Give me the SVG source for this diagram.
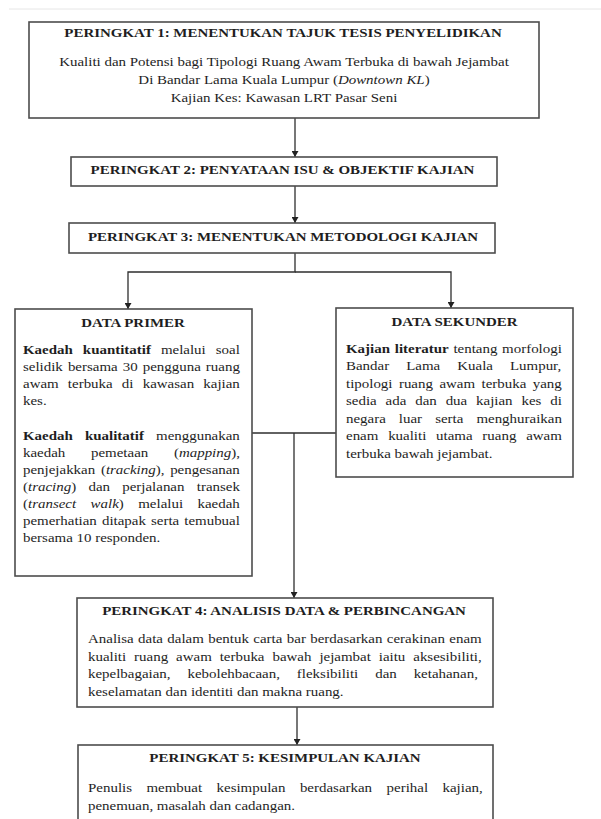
<svg xmlns="http://www.w3.org/2000/svg" width="601" height="819" viewBox="0 0 601 819">
<defs>
<marker id="ah" viewBox="0 0 6 7" markerWidth="6" markerHeight="7" refX="6" refY="3.5" orient="auto" markerUnits="userSpaceOnUse"><path d="M0,0 L6,3.5 L0,7 z" fill="#222"/></marker>
<style>
.box{fill:#fff;stroke:#4d4d4d;stroke-width:1.6}
text{font-family:"Liberation Serif","Times New Roman",serif;font-size:13px;fill:#1e1e1e}
.h{font-weight:bold;text-anchor:middle}
.c{text-anchor:middle}
.b{font-weight:bold}
.i{font-style:italic}
.con{fill:none;stroke:#2e2e2e;stroke-width:1.3}
</style>
</defs>
<rect width="601" height="819" fill="#fff"/>
<path d="M9,9 H601" stroke="#e6e6e6" stroke-width="1"/>

<g id="connectors">
<path class="con" d="M295,118 V157" marker-end="url(#ah)"/>
<path class="con" d="M295,186 V223" marker-end="url(#ah)"/>
<path class="con" d="M295,253 V272 H128 V309" marker-end="url(#ah)"/>
<path class="con" d="M295,272 H451 V308" marker-end="url(#ah)"/>
<path class="con" d="M252,433 H336"/>
<path class="con" d="M294,433 V598" marker-end="url(#ah)"/>
<path class="con" d="M297,707 V745" marker-end="url(#ah)"/>
</g>

<g id="peringkat1">
<rect class="box" x="29" y="22" width="510" height="96"/>
<g transform="translate(283,0) scale(1.15,1)"><text class="h" x="0" y="37.5">PERINGKAT 1: MENENTUKAN TAJUK TESIS PENYELIDIKAN</text></g>
<g transform="translate(284,0) scale(1.15,1)">
<text class="c" x="0" y="66">Kualiti dan Potensi bagi Tipologi Ruang Awam Terbuka di bawah Jejambat</text>
<text class="c" x="0" y="84">Di Bandar Lama Kuala Lumpur (<tspan class="i">Downtown KL</tspan>)</text>
<text class="c" x="0" y="102">Kajian Kes: Kawasan LRT Pasar Seni</text>
</g>
</g>

<g id="peringkat2">
<rect class="box" x="71" y="157" width="426" height="29"/>
<g transform="translate(282.5,0) scale(1.15,1)"><text class="h" x="0" y="174.5">PERINGKAT 2: PENYATAAN ISU &amp; OBJEKTIF KAJIAN</text></g>
</g>

<g id="peringkat3">
<rect class="box" x="69" y="223" width="426" height="30"/>
<g transform="translate(283,0) scale(1.15,1)"><text class="h" x="0" y="241">PERINGKAT 3: MENENTUKAN METODOLOGI KAJIAN</text></g>
</g>

<g id="data-primer">
<rect class="box" x="15" y="309" width="237" height="267"/>
<g transform="translate(133,0) scale(1.15,1)"><text class="h" x="0" y="327">DATA PRIMER</text></g>
<g transform="translate(23,0) scale(1.15,1)">
<text x="0" y="354" word-spacing="5.47"><tspan class="b">Kaedah kuantitatif</tspan> melalui soal</text>
<text x="0" y="371" word-spacing="1.15">selidik bersama 30 pengguna ruang</text>
<text x="0" y="388" word-spacing="4.75">awam terbuka di kawasan kajian</text>
<text x="0" y="405">kes.</text>
<text x="0" y="440" word-spacing="7.3"><tspan class="b">Kaedah kualitatif</tspan> menggunakan</text>
<text x="0" y="457" word-spacing="19.1">kaedah pemetaan (<tspan class="i">mapping</tspan>),</text>
<text x="0" y="474" word-spacing="1.75">penjejakkan (<tspan class="i">tracking</tspan>), pengesanan</text>
<text x="0" y="491" word-spacing="7.43">(<tspan class="i">tracing</tspan>) dan perjalanan transek</text>
<text x="0" y="508" word-spacing="9.33">(<tspan class="i">transect walk</tspan>) melalui kaedah</text>
<text x="0" y="525" word-spacing="1.17">pemerhatian ditapak serta temubual</text>
<text x="0" y="542">bersama 10 responden.</text>
</g>
</g>

<g id="data-sekunder">
<rect class="box" x="336" y="308" width="237" height="169"/>
<g transform="translate(454.5,0) scale(1.15,1)"><text class="h" x="0" y="326">DATA SEKUNDER</text></g>
<g transform="translate(346,0) scale(1.15,1)">
<text x="0" y="353" word-spacing="0.87"><tspan class="b">Kajian literatur</tspan> tentang morfologi</text>
<text x="0" y="370.5" word-spacing="11.57">Bandar Lama Kuala Lumpur,</text>
<text x="0" y="388" word-spacing="2.35">tipologi ruang awam terbuka yang</text>
<text x="0" y="405.5" word-spacing="4.47">sedia ada dan dua kajian kes di</text>
<text x="0" y="423" word-spacing="8.1">negara luar serta menghuraikan</text>
<text x="0" y="440.5" word-spacing="5.25">enam kualiti utama ruang awam</text>
<text x="0" y="458">terbuka bawah jejambat.</text>
</g>
</g>

<g id="peringkat4">
<rect class="box" x="77" y="598" width="416" height="109"/>
<g transform="translate(284,0) scale(1.15,1)"><text class="h" x="0" y="615">PERINGKAT 4: ANALISIS DATA &amp; PERBINCANGAN</text></g>
<g transform="translate(88,0) scale(1.15,1)">
<text x="0" y="643" word-spacing="0.59">Analisa data dalam bentuk carta bar berdasarkan cerakinan enam</text>
<text x="0" y="661" word-spacing="3.66">kualiti ruang awam terbuka bawah jejambat iaitu aksesibiliti,</text>
<text x="0" y="678.5" word-spacing="11.45">kepelbagaian, kebolehbacaan, fleksibiliti dan ketahanan,</text>
<text x="0" y="696">keselamatan dan identiti dan makna ruang.</text>
</g>
</g>

<g id="peringkat5">
<rect class="box" x="78" y="745" width="415" height="90"/>
<g transform="translate(285,0) scale(1.15,1)"><text class="h" x="0" y="762">PERINGKAT 5: KESIMPULAN KAJIAN</text></g>
<g transform="translate(88,0) scale(1.15,1)">
<text x="0" y="792" word-spacing="9.34">Penulis membuat kesimpulan berdasarkan perihal kajian,</text>
<text x="0" y="810">penemuan, masalah dan cadangan.</text>
</g>
</g>
</svg>
